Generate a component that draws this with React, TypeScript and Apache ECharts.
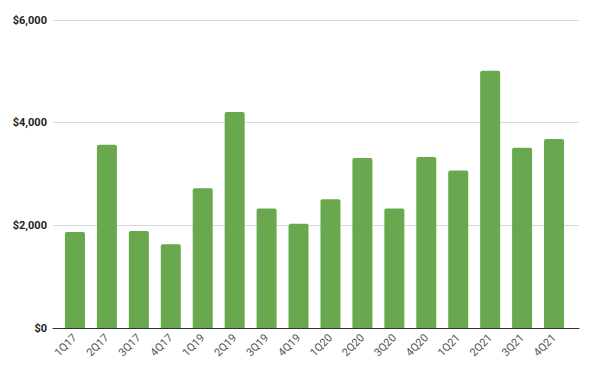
import React, { useEffect, useRef } from "react";
import * as echarts from "echarts";

const categories = ["1Q17", "2Q17", "3Q17", "4Q17", "1Q19", "2Q19", "3Q19", "4Q19", "1Q20", "2Q20", "3Q20", "4Q20", "1Q21", "2Q21", "3Q21", "4Q21"];
const values = [1870, 3570, 1890, 1630, 2720, 4210, 2330, 2030, 2510, 3310, 2330, 3330, 3070, 5010, 3510, 3680];
const yTicks = [0, 2000, 4000, 6000];

export default function App() {
  const ref = useRef<HTMLDivElement>(null);
  useEffect(() => {
    if (!ref.current) return;
    const chart = echarts.init(ref.current, null, { renderer: "svg" });
    const yMax = yTicks[yTicks.length - 1];
    const interval = yTicks[1] - yTicks[0];
    chart.setOption({
      animation: false,
      textStyle: { fontFamily: "Roboto, Arial, sans-serif" },
      grid: [
        { left: 53, right: 21, top: 20, bottom: 44 },
        { left: 59, right: 30, top: 20, bottom: 44 },
      ],
      xAxis: [
        {
          gridIndex: 0,
          type: "category",
          data: categories,
          axisLine: { show: true, lineStyle: { color: "#333", width: 1.2 } },
          axisTick: { show: false },
          axisLabel: { show: false },
        },
        {
          gridIndex: 1,
          type: "category",
          data: categories,
          axisLine: { show: false },
          axisTick: { show: false },
          axisLabel: {
            rotate: 45,
            fontSize: 11,
            color: "#555",
            margin: 8,
            interval: 0,
          },
        },
      ],
      yAxis: [
        {
          gridIndex: 0,
          type: "value",
          min: 0,
          max: yMax,
          interval,
          axisLine: { show: false },
          axisTick: { show: false },
          splitLine: { lineStyle: { color: "#d9d9d9", width: 1 } },
          axisLabel: {
            fontSize: 11,
            fontWeight: "bold",
            color: "#222",
            margin: 6,
            formatter: (v: number) => "$" + v.toLocaleString("en-US"),
          },
        },
        {
          gridIndex: 1,
          type: "value",
          min: 0,
          max: yMax,
          interval,
          show: false,
          splitLine: { show: false },
        },
      ],
      series: [
        {
          type: "bar",
          xAxisIndex: 1,
          yAxisIndex: 1,
          data: values,
          barWidth: 20,
          itemStyle: { color: "#6aa84f", borderRadius: [2, 2, 0, 0] },
        },
      ],
    });
    return () => chart.dispose();
  }, []);
  return (
    <div
      ref={ref}
      style={{ position: "fixed", left: 0, top: 0, width: 600, height: 372, background: "#fff" }}
    />
  );
}
